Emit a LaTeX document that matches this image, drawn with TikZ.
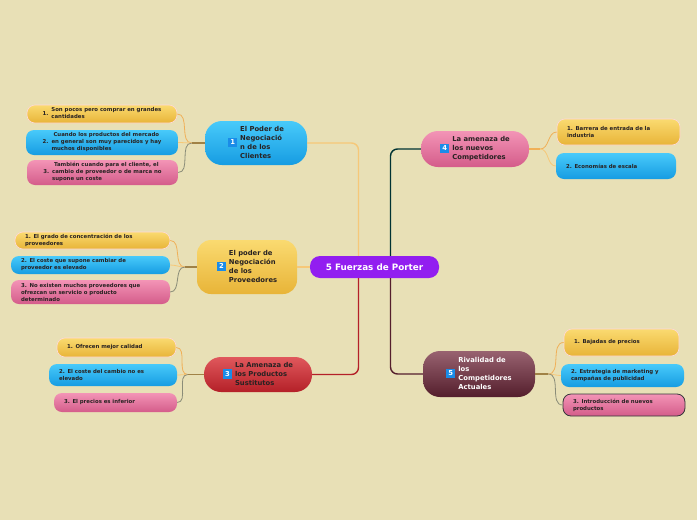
\documentclass[tikz,border=0pt]{standalone}
\usepackage{fontspec}
\setmainfont{DejaVu Sans}
\usepackage{tikz}
\usetikzlibrary{positioning, arrows.meta}

\definecolor{paper}{RGB}{232,224,182}
\definecolor{ylwtop}{RGB}{250,218,112}
\definecolor{ylwbot}{RGB}{232,180,56}
\definecolor{bluetop}{RGB}{72,202,250}
\definecolor{bluebot}{RGB}{22,156,226}
\definecolor{pinktop}{RGB}{243,148,182}
\definecolor{pinkbot}{RGB}{212,92,138}
\definecolor{redtop}{RGB}{224,88,92}
\definecolor{redbot}{RGB}{180,32,40}
\definecolor{winetop}{RGB}{152,98,112}
\definecolor{winebot}{RGB}{84,30,44}
\definecolor{hubpurple}{RGB}{146,30,240}
\definecolor{badgeblue}{RGB}{26,140,232}
\definecolor{ink}{RGB}{40,34,34}
\definecolor{twigorange}{RGB}{240,176,88}
\definecolor{twiglight}{RGB}{246,200,120}
\definecolor{twiggray}{RGB}{138,140,120}
\definecolor{stubbrown}{RGB}{160,130,70}

\newcommand{\badge}[1]{{\setlength{\fboxsep}{2.2pt}\colorbox{badgeblue}{\textcolor{white}{#1}}}}
\newcommand{\numitem}[2]{\begin{tabular}{@{}l@{\hspace{3pt}}l@{}}#1 & \begin{tabular}{@{}l@{}}#2\end{tabular}\end{tabular}}
\newcommand{\lines}[1]{\begin{tabular}{@{}l@{}}#1\end{tabular}}

\begin{document}
\begin{tikzpicture}[x=1pt, y=-1pt,
      leaf/.style={rounded corners=8pt, inner ysep=1pt, inner xsep=10pt,
                   align=left, text=ink,
                   font=\fontsize{5.4}{7}\selectfont\bfseries},
      yleaf/.style={leaf, draw=pink!60, line width=0.6pt, top color=ylwtop, bottom color=ylwbot},
      bleaf/.style={leaf, top color=bluetop, bottom color=bluebot},
      pleaf/.style={leaf, top color=pinktop, bottom color=pinkbot},
      topic/.style={rounded corners=17pt, inner sep=2pt, align=center, text=ink,
                    font=\fontsize{6.8}{9}\selectfont\bfseries},
      branch/.style={line width=1.4pt, rounded corners=7pt},
      stub/.style={line width=1.2pt, draw=stubbrown},
      twig/.style={line width=0.8pt}]

  \fill[paper] (0,0) rectangle (697,520);
  \useasboundingbox (0,0) rectangle (697,520);

  \node[rounded corners=10pt, fill=hubpurple, text=white, minimum width=129pt,
        minimum height=22pt, font=\fontsize{8.8}{10}\selectfont\bfseries]
                                  (hub) at (374.5,267) {5 Fuerzas de Porter};

  \node[topic, top color=bluetop, bottom color=bluebot, minimum width=102pt, minimum height=44pt]
        (clientes) at (256,143) {\badge{1}\hspace{3pt}\lines{El Poder de\\Negociació\\n de los\\Clientes}};
  \node[topic, top color=ylwtop, bottom color=ylwbot, rounded corners=14pt,
        minimum width=100pt, minimum height=54pt]
        (proveed) at (247,267) {\badge{2}\hspace{3pt}\lines{El poder de\\Negociación\\de los\\Proveedores}};
  \node[topic, top color=redtop, bottom color=redbot, minimum width=108pt, minimum height=35pt]
        (sustit) at (258,374.5) {\badge{3}\hspace{3pt}\lines{La Amenaza de\\los Productos\\Sustitutos}};
  \node[topic, top color=pinktop, bottom color=pinkbot, minimum width=108pt, minimum height=36pt]
        (nuevos) at (475,149) {\badge{4}\hspace{3pt}\lines{La amenaza de\\los nuevos\\Competidores}};
  \node[topic, top color=winetop, bottom color=winebot, text=white, minimum width=112pt, minimum height=46pt]
        (rival) at (479,374) {\badge{5}\hspace{3pt}\lines{Rivalidad de\\los\\Competidores\\Actuales}};

  \node[yleaf, align=center, minimum width=150pt, minimum height=18pt] (cli1) at (102,114)
        {\numitem{1.}{Son pocos pero comprar en grandes\\cantidades}};
  \node[bleaf, align=center, minimum width=152pt, minimum height=25pt] (cli2) at (102,142.5)
        {\numitem{2.}{\hspace*{2pt}Cuando los productos del mercado\\en general son muy parecidos y hay\\muchos disponibles}};
  \node[pleaf, align=center, minimum width=151pt, minimum height=25pt] (cli3) at (102.5,172.5)
        {\numitem{3.}{\hspace*{2pt}También cuando para el cliente, el\\cambio de proveedor o de marca no\\supone un coste}};

  \node[yleaf, text width=135pt, minimum height=17pt] (prov1) at (92.5,240.5)
        {1. El grado de concentración de los\\proveedores};
  \node[bleaf, text width=139pt, minimum height=18pt] (prov2) at (90.5,265)
        {2. El coste que supone cambiar de\\proveedor es elevado};
  \node[pleaf, text width=139pt, minimum height=24pt] (prov3) at (90.5,292)
        {3. No existen muchos proveedores que\\ofrezcan un servicio o producto\\determinado};

  \node[yleaf, text width=99pt, minimum height=19pt] (sus1) at (116.5,347.5) {1. Ofrecen mejor calidad};
  \node[bleaf, text width=108pt, minimum height=22pt] (sus2) at (113,375) {2. El coste del cambio no es\\elevado};
  \node[pleaf, text width=103pt, minimum height=19pt] (sus3) at (115.5,402.5) {3. El precios es inferior};

  \node[yleaf, text width=103pt, minimum height=26pt] (nue1) at (618.5,132)
        {1. Barrera de entrada de la\\industria};
  \node[bleaf, text width=100pt, minimum height=26pt] (nue2) at (616,166) {2. Economías de escala};

  \node[yleaf, text width=95pt, minimum height=27pt] (riv1) at (621.5,342.5) {1. Bajadas de precios};
  \node[bleaf, text width=103pt, minimum height=23pt] (riv2) at (622.5,375.5)
        {2. Estrategia de marketing y\\campañas de publicidad};
  \node[pleaf, draw=black!70!cyan!40!black, line width=0.8pt, text width=102pt, minimum height=22pt]
        (riv3) at (624,405) {3. Introducción de nuevos\\productos};

  \draw[branch, draw=twiglight] ([xshift=-16pt]hub.north) |- (clientes.east);
  \draw[branch, draw=twiglight] (hub.west) -- (proveed.east);
  \draw[branch, draw=redbot] ([xshift=-16pt]hub.south) |- (sustit.east);
  \draw[branch, draw=black!60!teal] ([xshift=16pt]hub.north) |- (nuevos.west);
  \draw[branch, draw=winebot] ([xshift=16pt]hub.south) |- (rival.west);

  \coordinate[left=13pt of clientes] (kc);
  \coordinate[left=12pt of proveed] (kp);
  \coordinate[left=16pt of sustit] (ks);
  \coordinate[right=11pt of nuevos] (kn);
  \coordinate[right=13pt of rival] (kr);

  \draw[stub] (clientes) -- (kc);
  \draw[stub] (proveed) -- (kp);
  \draw[stub] (sustit) -- (ks);
  \draw[stub, draw=twigorange] (nuevos) -- (kn);
  \draw[stub] (rival) -- (kr);

  \draw[twig, draw=twigorange] (kc) to[out=180, in=0] (cli1.east);
  \draw[twig, draw=twiglight]  (kc) to[out=180, in=0] (cli2.east);
  \draw[twig, draw=twiggray]   (kc) to[out=180, in=0] (cli3.east);
  \draw[twig, draw=twigorange] (kp) to[out=180, in=0] (prov1.east);
  \draw[twig, draw=twiglight]  (kp) to[out=180, in=0] (prov2.east);
  \draw[twig, draw=twiggray]   (kp) to[out=180, in=0] (prov3.east);
  \draw[twig, draw=twigorange] (ks) to[out=180, in=0] (sus1.east);
  \draw[twig, draw=twiglight]  (ks) to[out=180, in=0] (sus2.east);
  \draw[twig, draw=twiggray]   (ks) to[out=180, in=0] (sus3.east);
  \draw[twig, draw=twigorange] (kn) to[out=0, in=180] (nue1.west);
  \draw[twig, draw=twiglight]  (kn) to[out=0, in=180] (nue2.west);
  \draw[twig, draw=twigorange] (kr) to[out=0, in=180] (riv1.west);
  \draw[twig, draw=twiglight]  (kr) to[out=0, in=180] (riv2.west);
  \draw[twig, draw=twiggray]   (kr) to[out=0, in=180] (riv3.west);
\end{tikzpicture}
\end{document}
